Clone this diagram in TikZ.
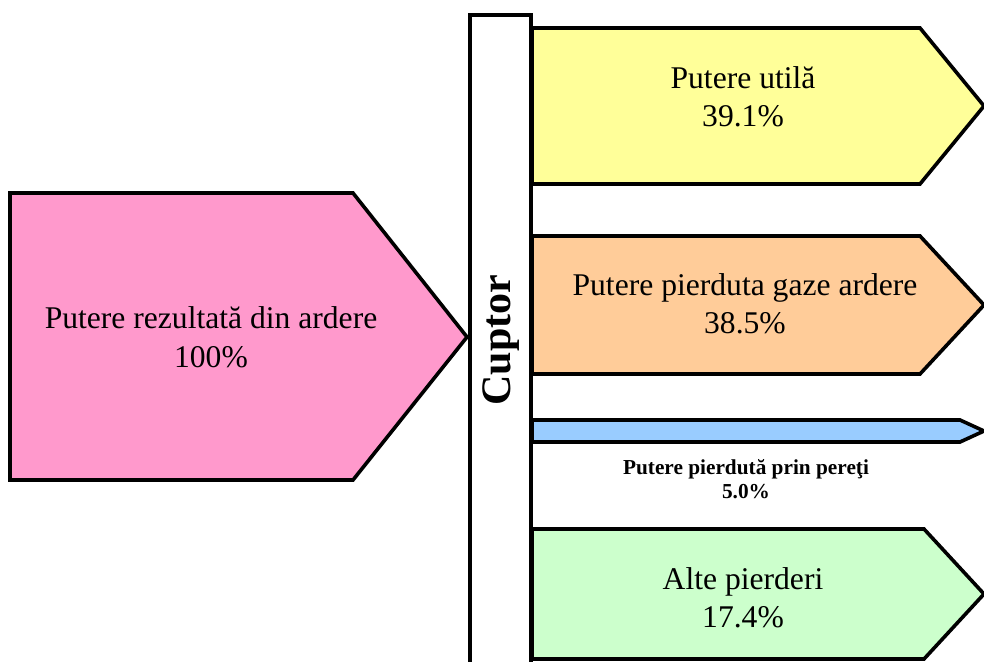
\documentclass[tikz,border=0pt]{standalone}
\usepackage{fontspec}
\setmainfont{Liberation Serif}
\usetikzlibrary{positioning}

\definecolor{pinkfill}{HTML}{FF99CC}
\definecolor{yellowfill}{HTML}{FFFF99}
\definecolor{orangefill}{HTML}{FFCC99}
\definecolor{bluefill}{HTML}{99CCFF}
\definecolor{greenfill}{HTML}{CCFFCC}

\begin{document}
\begin{tikzpicture}[x=1pt, y=-1pt,
  flow/.style={draw=black, line width=3.6pt, line join=miter},
  biglabel/.style={align=center, font=\fontsize{31.6}{38.5}\selectfont, inner sep=0pt},
  smalllabel/.style={align=center, font=\fontsize{21.3}{24}\selectfont\bfseries, inner sep=0pt}]
\useasboundingbox (0,0) rectangle (984,661);
% input
\draw[flow, fill=pinkfill] (10,193) -- (353,193) -- (467,337) -- (353,480) -- (10,480) -- cycle;
\node[biglabel] (in) at (211,337) {Putere rezultată din ardere\\100\%};
% cuptor
\draw[draw=black, line width=4pt, fill=white] (470,700) -- (470,15) -- (531,15) -- (531,700);
\node[rotate=90, font=\fontsize{42}{46}\selectfont\bfseries, inner sep=0pt] (cuptor) at (501,340) {Cuptor};
% outputs
\draw[flow, fill=yellowfill] (532,28) -- (920,28) -- (984,106) -- (920,184) -- (532,184) -- cycle;
\node[biglabel] (util) at (743,97) {Putere utilă\\39.1\%};
\draw[flow, fill=orangefill] (532,236) -- (920,236) -- (984,305) -- (920,374) -- (532,374) -- cycle;
\node[biglabel] (gaze) at (745,304) {Putere pierduta gaze ardere\\38.5\%};
\draw[flow, fill=bluefill] (532,420) -- (960,420) -- (984,431) -- (960,442) -- (532,442) -- cycle;
\node[smalllabel] (pereti) at (746,479) {Putere pierdută prin pereţi\\5.0\%};
\draw[flow, fill=greenfill] (532,529) -- (924,529) -- (984,594) -- (924,659) -- (532,659) -- cycle;
\node[biglabel] (alte) at (743,598) {Alte pierderi\\17.4\%};
\end{tikzpicture}
\end{document}
